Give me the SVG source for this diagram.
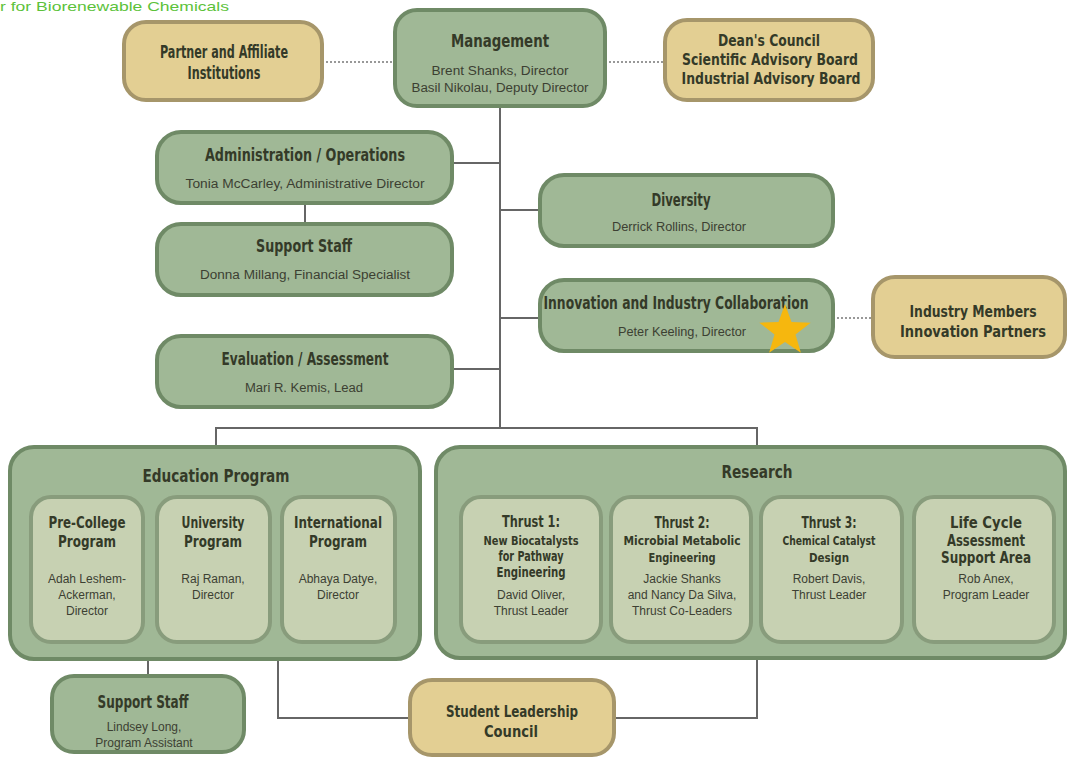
<svg xmlns="http://www.w3.org/2000/svg" width="1067" height="757" viewBox="0 0 1067 757">
  <style>
    .g { fill: #a0b896; stroke: #6f8a66; stroke-width: 4; }
    .l { fill: #c7d1b2; stroke: #889c7c; stroke-width: 4; }
    .y { fill: #e3cf93; stroke: #a6966a; stroke-width: 4; }
    .t { font-family: "DejaVu Sans Condensed", "Liberation Sans Narrow", "Liberation Sans", sans-serif; font-weight: bold; fill: #343a28; text-anchor: middle; }
    .s { font-family: "Liberation Sans", Arial, sans-serif; fill: #3c4032; text-anchor: middle; font-size: 12px; }
    .c { fill: none; stroke: #666; stroke-width: 2; }
    .d { fill: none; stroke: #777; stroke-width: 1.6; stroke-dasharray: 2 2; }
  </style>

  <rect width="1067" height="757" fill="#ffffff"/>

  <text x="0" y="11" font-family="Liberation Sans, Arial, sans-serif" font-size="13" fill="#5cc23a" textLength="229" lengthAdjust="spacingAndGlyphs">r for Biorenewable Chemicals</text>

  <!-- connectors -->
  <g id="connectors">
    <path class="c" d="M500,106 V428"/>
    <path class="c" d="M452,163 H500"/>
    <path class="c" d="M500,210 H540"/>
    <path class="c" d="M500,318 H540"/>
    <path class="c" d="M452,369 H500"/>
    <path class="c" d="M305,203 V224"/>
    <path class="c" d="M216,447 V428 H757 V447"/>
    <path class="c" d="M148,659 V676"/>
    <path class="c" d="M278,659 V718 H410"/>
    <path class="c" d="M614,718 H757 V658"/>
    <path class="d" d="M322,62 H395"/>
    <path class="d" d="M605,62 H665"/>
    <path class="d" d="M833,318 H873"/>
  </g>

  <g id="partner">
    <rect class="y" x="124" y="22" width="198" height="78" rx="22"/>
    <text class="t" x="224" y="58" font-size="17" textLength="128" lengthAdjust="spacingAndGlyphs">Partner and Affiliate</text>
    <text class="t" x="224" y="79" font-size="17" textLength="73" lengthAdjust="spacingAndGlyphs">Institutions</text>
  </g>

  <g id="management">
    <rect class="g" x="395" y="10" width="210" height="96" rx="22"/>
    <text class="t" x="500" y="47" font-size="18" textLength="98" lengthAdjust="spacingAndGlyphs">Management</text>
    <text class="s" x="500" y="75" textLength="137" lengthAdjust="spacingAndGlyphs">Brent Shanks, Director</text>
    <text class="s" x="500" y="92" textLength="177" lengthAdjust="spacingAndGlyphs">Basil Nikolau, Deputy Director</text>
  </g>

  <g id="advisory">
    <rect class="y" x="665" y="20" width="208" height="80" rx="22"/>
    <text class="t" x="769" y="46" font-size="16" textLength="102" lengthAdjust="spacingAndGlyphs">Dean's Council</text>
    <text class="t" x="770" y="65" font-size="16" textLength="176" lengthAdjust="spacingAndGlyphs">Scientific Advisory Board</text>
    <text class="t" x="771" y="84" font-size="16" textLength="179" lengthAdjust="spacingAndGlyphs">Industrial Advisory Board</text>
  </g>

  <g id="administration">
    <rect class="g" x="157" y="132" width="295" height="71" rx="24"/>
    <text class="t" x="305" y="161" font-size="17" textLength="200" lengthAdjust="spacingAndGlyphs">Administration / Operations</text>
    <text class="s" x="305" y="188" textLength="239" lengthAdjust="spacingAndGlyphs">Tonia McCarley, Administrative Director</text>
  </g>

  <g id="support-staff">
    <rect class="g" x="157" y="224" width="295" height="71" rx="24"/>
    <text class="t" x="304" y="252" font-size="17" textLength="96" lengthAdjust="spacingAndGlyphs">Support Staff</text>
    <text class="s" x="305" y="279" textLength="210" lengthAdjust="spacingAndGlyphs">Donna Millang, Financial Specialist</text>
  </g>

  <g id="evaluation">
    <rect class="g" x="157" y="336" width="295" height="71" rx="24"/>
    <text class="t" x="305" y="365" font-size="17" textLength="167" lengthAdjust="spacingAndGlyphs">Evaluation / Assessment</text>
    <text class="s" x="304" y="392" textLength="118" lengthAdjust="spacingAndGlyphs">Mari R. Kemis, Lead</text>
  </g>

  <g id="diversity">
    <rect class="g" x="540" y="175" width="293" height="71" rx="24"/>
    <text class="t" x="681" y="206" font-size="17" textLength="59" lengthAdjust="spacingAndGlyphs">Diversity</text>
    <text class="s" x="679" y="231" textLength="134" lengthAdjust="spacingAndGlyphs">Derrick Rollins, Director</text>
  </g>

  <g id="innovation">
    <rect class="g" x="540" y="280" width="293" height="71" rx="24"/>
    <text class="t" x="676" y="309" font-size="17" textLength="265" lengthAdjust="spacingAndGlyphs">Innovation and Industry Collaboration</text>
    <text class="s" x="682" y="336" textLength="128" lengthAdjust="spacingAndGlyphs">Peter Keeling, Director</text>
    <polygon fill="#f6b70e" points="785,304 791.5,322.1 810.7,322.7 795.5,334.4 800.9,352.8 785,342 769.1,352.8 774.5,334.4 759.3,322.7 778.5,322.1"/>
  </g>

  <g id="industry">
    <rect class="y" x="873" y="277" width="192" height="80" rx="22"/>
    <text class="t" x="973" y="317" font-size="16" textLength="127" lengthAdjust="spacingAndGlyphs">Industry Members</text>
    <text class="t" x="973" y="337" font-size="16" textLength="146" lengthAdjust="spacingAndGlyphs">Innovation Partners</text>
  </g>

  <g id="education">
    <rect class="g" x="10" y="447" width="410" height="212" rx="24"/>
    <text class="t" x="216" y="482" font-size="17" textLength="147" lengthAdjust="spacingAndGlyphs">Education Program</text>
  </g>

  <g id="pre-college">
    <rect class="l" x="31" y="497" width="112" height="145" rx="20"/>
    <text class="t" x="87" y="528" font-size="16" textLength="77" lengthAdjust="spacingAndGlyphs">Pre-College</text>
    <text class="t" x="87" y="547" font-size="16" textLength="58" lengthAdjust="spacingAndGlyphs">Program</text>
    <text class="s" x="87" y="583">Adah Leshem-</text>
    <text class="s" x="87" y="599">Ackerman,</text>
    <text class="s" x="87" y="615">Director</text>
  </g>

  <g id="university">
    <rect class="l" x="157" y="497" width="113" height="145" rx="20"/>
    <text class="t" x="213" y="528" font-size="16" textLength="63" lengthAdjust="spacingAndGlyphs">University</text>
    <text class="t" x="213" y="547" font-size="16" textLength="58" lengthAdjust="spacingAndGlyphs">Program</text>
    <text class="s" x="213" y="583">Raj Raman,</text>
    <text class="s" x="213" y="599">Director</text>
  </g>

  <g id="international">
    <rect class="l" x="282" y="497" width="113" height="145" rx="20"/>
    <text class="t" x="338" y="528" font-size="16" textLength="88" lengthAdjust="spacingAndGlyphs">International</text>
    <text class="t" x="338" y="547" font-size="16" textLength="58" lengthAdjust="spacingAndGlyphs">Program</text>
    <text class="s" x="338" y="583">Abhaya Datye,</text>
    <text class="s" x="338" y="599">Director</text>
  </g>

  <g id="research">
    <rect class="g" x="436" y="447" width="629" height="211" rx="24"/>
    <text class="t" x="757" y="478" font-size="17" textLength="71" lengthAdjust="spacingAndGlyphs">Research</text>
  </g>

  <g id="thrust-1">
    <rect class="l" x="461" y="497" width="140" height="145" rx="20"/>
    <text class="t" x="531" y="527" font-size="16" textLength="58" lengthAdjust="spacingAndGlyphs">Thrust 1:</text>
    <text class="t" x="531" y="545" font-size="13" textLength="95" lengthAdjust="spacingAndGlyphs">New Biocatalysts</text>
    <text class="t" x="531" y="561" font-size="14" textLength="65" lengthAdjust="spacingAndGlyphs">for Pathway</text>
    <text class="t" x="531" y="577" font-size="14" textLength="69" lengthAdjust="spacingAndGlyphs">Engineering</text>
    <text class="s" x="531" y="599">David Oliver,</text>
    <text class="s" x="531" y="615">Thrust Leader</text>
  </g>

  <g id="thrust-2">
    <rect class="l" x="611" y="497" width="140" height="145" rx="20"/>
    <text class="t" x="682" y="528" font-size="16" textLength="55" lengthAdjust="spacingAndGlyphs">Thrust 2:</text>
    <text class="t" x="682" y="545" font-size="13" textLength="117" lengthAdjust="spacingAndGlyphs">Microbial Metabolic</text>
    <text class="t" x="682" y="562" font-size="13" textLength="67" lengthAdjust="spacingAndGlyphs">Engineering</text>
    <text class="s" x="682" y="583">Jackie Shanks</text>
    <text class="s" x="682" y="599">and Nancy Da Silva,</text>
    <text class="s" x="682" y="615">Thrust Co-Leaders</text>
  </g>

  <g id="thrust-3">
    <rect class="l" x="761" y="497" width="141" height="145" rx="20"/>
    <text class="t" x="829" y="528" font-size="16" textLength="55" lengthAdjust="spacingAndGlyphs">Thrust 3:</text>
    <text class="t" x="829" y="545" font-size="13" textLength="93" lengthAdjust="spacingAndGlyphs">Chemical Catalyst</text>
    <text class="t" x="829" y="562" font-size="13" textLength="40" lengthAdjust="spacingAndGlyphs">Design</text>
    <text class="s" x="829" y="583">Robert Davis,</text>
    <text class="s" x="829" y="599">Thrust Leader</text>
  </g>

  <g id="life-cycle">
    <rect class="l" x="914" y="497" width="140" height="145" rx="20"/>
    <text class="t" x="986" y="528" font-size="16" textLength="72" lengthAdjust="spacingAndGlyphs">Life Cycle</text>
    <text class="t" x="986" y="546" font-size="16" textLength="78" lengthAdjust="spacingAndGlyphs">Assessment</text>
    <text class="t" x="986" y="563" font-size="16" textLength="90" lengthAdjust="spacingAndGlyphs">Support Area</text>
    <text class="s" x="986" y="583">Rob Anex,</text>
    <text class="s" x="986" y="599">Program Leader</text>
  </g>

  <g id="program-support">
    <rect class="g" x="52" y="676" width="192" height="76" rx="22"/>
    <text class="t" x="143" y="708" font-size="17" textLength="91" lengthAdjust="spacingAndGlyphs">Support Staff</text>
    <text class="s" x="144" y="731">Lindsey Long,</text>
    <text class="s" x="144" y="747">Program Assistant</text>
  </g>

  <g id="student-council">
    <rect class="y" x="410" y="680" width="204" height="75" rx="22"/>
    <text class="t" x="512" y="717" font-size="16" textLength="132" lengthAdjust="spacingAndGlyphs">Student Leadership</text>
    <text class="t" x="511" y="737" font-size="16" textLength="54" lengthAdjust="spacingAndGlyphs">Council</text>
  </g>
</svg>
